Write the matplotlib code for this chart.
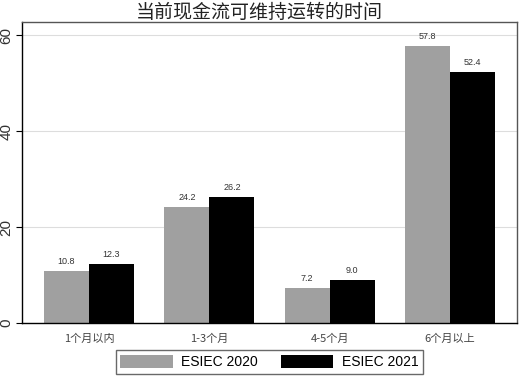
import numpy as np
import matplotlib.pyplot as plt

plt.rcParams['font.family'] = ['Noto Sans CJK SC', 'DejaVu Sans']

categories = ['1个月以内', '1-3个月', '4-5个月', '6个月以上']
esiec_2020 = [10.8, 24.2, 7.2, 57.8]
esiec_2021 = [12.3, 26.2, 9.0, 52.4]
series_names = ['ESIEC 2020', 'ESIEC 2021']

GRAY = '#a0a0a0'
BLACK = '#000000'

fig = plt.figure(figsize=(5.19, 3.76), dpi=100)
ax = fig.add_axes([0.0424, 0.141, 0.954, 0.80])

x = np.arange(len(categories))
w = 0.374
b1 = ax.bar(x - w / 2, esiec_2020, w, color=GRAY, label=series_names[0])
b2 = ax.bar(x + w / 2, esiec_2021, w, color=BLACK, label=series_names[1])

# value labels above bars
for bars, vals in [(b1, esiec_2020), (b2, esiec_2021)]:
    for bar, val in zip(bars, vals):
        ax.text(bar.get_x() + bar.get_width() / 2, bar.get_height() + 2.0,
                f'{val:.1f}', ha='center', va='center', fontsize=6.5,
                color='#333333', family='Liberation Sans')

ax.set_xlim(-0.557, 3.557)
ax.set_ylim(0, 62.7)
ax.set_yticks([0, 20, 40, 60])
ax.set_yticklabels(['0', '20', '40', '60'], rotation=90, va='center',
                   fontsize=11, color='#333333', family='Liberation Sans')
ax.set_xticks(x)
ax.set_xticklabels(categories, fontsize=8, color='#444444')
ax.tick_params(axis='x', length=0, pad=8)
ax.tick_params(axis='y', length=4, width=0.8, pad=2)
ax.grid(axis='y', color='#dddddd', linewidth=0.8)
ax.set_axisbelow(True)

for side in ['top', 'right']:
    ax.spines[side].set_color('#555555')
    ax.spines[side].set_linewidth(1.0)
for side in ['left', 'bottom']:
    ax.spines[side].set_color('black')
    ax.spines[side].set_linewidth(1.0)

fig.text(0.5, 0.995, '当前现金流可维持运转的时间', ha='center', va='top',
         fontsize=13.7, color='#222222')

leg = fig.legend(loc='lower center', bbox_to_anchor=(0.519, 0.0), ncol=2,
                 frameon=True, fancybox=False, edgecolor='#444444',
                 handlelength=3.75, handleheight=1.0,
                 columnspacing=1.7, borderpad=0.35, handletextpad=0.6,
                 borderaxespad=0.15,
                 prop={'family': 'Liberation Sans', 'size': 10})
leg.get_frame().set_linewidth(1.0)

fig.savefig('out.png', dpi=100)
